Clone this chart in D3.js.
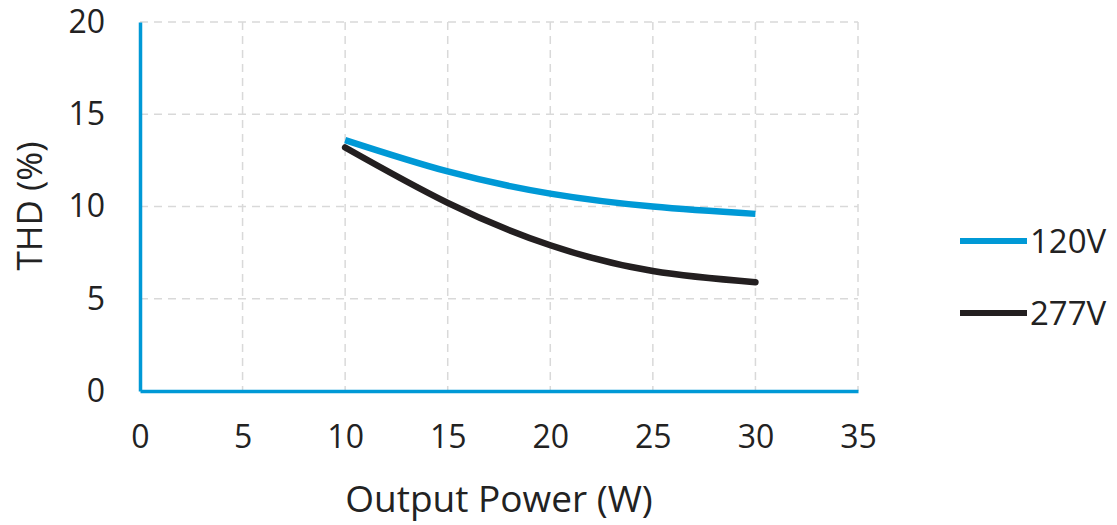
<!doctype html>
<html>
<head>
  <script src="https://cdnjs.cloudflare.com/ajax/libs/d3/7.8.5/d3.min.js"></script>
  <style>
    body { margin: 0; background: #fff; }
    text { font-family: "Open Sans", sans-serif; fill: #222; }
    .grid line { stroke: #d9d9d9; stroke-width: 1.5; stroke-dasharray: 8,6; }
  </style>
</head>
<body>
  <svg width="1117" height="525"></svg>
  <script>
    var power = [10, 15, 20, 25, 30];
    var thd120 = [13.6, 11.9, 10.7, 10.0, 9.6];
    var thd277 = [13.2, 10.2, 7.9, 6.5, 5.9];
    var xTicks = [0, 5, 10, 15, 20, 25, 30, 35];
    var yTicks = [0, 5, 10, 15, 20];
    var seriesNames = ["120V", "277V"];
    var seriesColors = ["#0099d6", "#231f20"];

    var svg = d3.select("svg");
    var x = d3.scaleLinear().domain([0, 35]).range([140, 858]);
    var y = d3.scaleLinear().domain([0, 20]).range([391, 22]);

    // dashed grid
    var grid = svg.append("g").attr("class", "grid");
    grid.selectAll("line.v").data(xTicks.slice(1)).enter().append("line")
      .attr("x1", d => x(d)).attr("x2", d => x(d))
      .attr("y1", y(20)).attr("y2", y(0));
    grid.selectAll("line.h").data(yTicks.slice(1)).enter().append("line")
      .attr("x1", x(0)).attr("x2", x(35))
      .attr("y1", d => y(d)).attr("y2", d => y(d));

    // axes
    var xAxis = d3.axisBottom(x).tickValues(xTicks).tickSize(0).tickPadding(46);
    var gx = svg.append("g").attr("transform", "translate(0," + y(0) + ")").call(xAxis);
    var yAxis = d3.axisLeft(y).tickValues(yTicks).tickSize(0).tickPadding(35);
    var gy = svg.append("g").attr("transform", "translate(" + x(0) + ",0)").call(yAxis);
    [gx, gy].forEach(function(g) {
      g.select(".domain").attr("stroke", "#0099d6").attr("stroke-width", 3.5);
      g.selectAll("text").style("font-size", "32px").attr("fill", "#222");
    });
    gx.selectAll("text").attr("dy", "0.35em");

    // curves
    var series = [thd120, thd277];
    var line = d3.line().x((d, i) => x(power[i])).y(d => y(d)).curve(d3.curveNatural);
    svg.selectAll("path.curve").data(series).enter().append("path")
      .attr("class", "curve")
      .attr("d", d => line(d))
      .attr("fill", "none")
      .attr("stroke", (d, i) => seriesColors[i])
      .attr("stroke-width", 6.5)
      .attr("stroke-linecap", (d, i) => i ? "round" : "butt");

    // axis titles
    svg.append("text").attr("x", 499).attr("y", 512)
      .attr("text-anchor", "middle").style("font-size", "37px")
      .text("Output Power (W)");
    svg.append("text").attr("transform", "translate(42,206) rotate(-90)")
      .attr("text-anchor", "middle").style("font-size", "35px")
      .text("THD (%)");

    // legend
    var legend = svg.selectAll("g.leg").data(seriesNames).enter().append("g")
      .attr("transform", (d, i) => "translate(960," + (241 + i * 72) + ")");
    legend.append("line").attr("x1", 0).attr("x2", 67)
      .attr("stroke", (d, i) => seriesColors[i]).attr("stroke-width", 6);
    legend.append("text").attr("x", 70).attr("dy", "0.35em")
      .style("font-size", "33px").text(d => d);
  </script>
</body>
</html>
